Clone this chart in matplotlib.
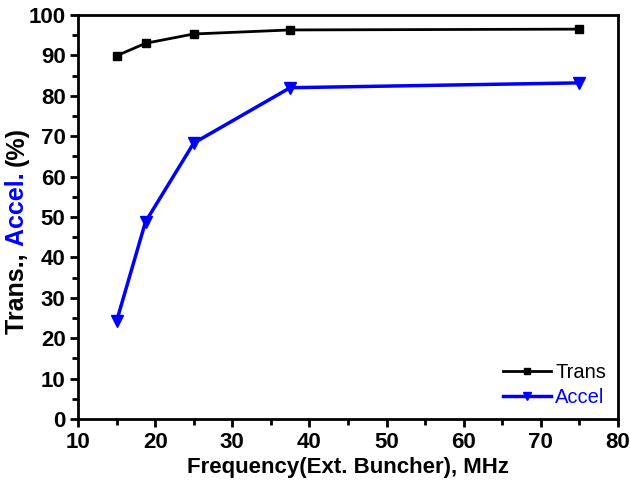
import matplotlib.pyplot as plt
from matplotlib.ticker import MultipleLocator

plt.rcParams['font.family'] = ['Liberation Sans', 'DejaVu Sans']

freq = [15, 18.75, 25, 37.5, 75]
trans = [89.9, 93.0, 95.3, 96.3, 96.5]
accel = [24.2, 48.8, 68.3, 82.0, 83.2]

fig = plt.figure(figsize=(6.3, 4.86), dpi=100)
ax = fig.add_axes([78 / 630, 1 - 419 / 486, 540 / 630, 404 / 486])

ax.plot(freq, trans, color='black', lw=2, marker='s', ms=6, label='Trans')
ax.plot(freq, accel, color='blue', lw=2.5, marker='v', ms=8, label='Accel')

ax.set_xlim(10, 80)
ax.set_ylim(0, 100)
ax.xaxis.set_major_locator(MultipleLocator(10))
ax.xaxis.set_minor_locator(MultipleLocator(5))
ax.yaxis.set_major_locator(MultipleLocator(10))
ax.yaxis.set_minor_locator(MultipleLocator(5))
ax.tick_params(which='major', direction='out', length=6, width=2, labelsize=16, pad=3)
ax.tick_params(which='minor', direction='out', length=4, width=2)
for lab in ax.get_xticklabels() + ax.get_yticklabels():
    lab.set_fontweight('bold')
for sp in ax.spines.values():
    sp.set_linewidth(2)

ax.set_xlabel('Frequency(Ext. Buncher), MHz', fontsize=16, fontweight='bold', labelpad=3)

# multi-coloured y label
t1 = fig.text(17 / 630, 1 - 334 / 486, 'Trans., ', rotation=90, fontsize=18,
              fontweight='bold', ha='center', va='bottom')
t2 = ax.annotate('Accel. ', xy=(0.5, 1), xycoords=t1, rotation=90, fontsize=18,
                 fontweight='bold', color='blue', ha='center', va='bottom')
ax.annotate('(%)', xy=(0.5, 1), xycoords=t2, rotation=90, fontsize=18,
            fontweight='bold', color='black', ha='center', va='bottom')

leg = ax.legend(loc='lower right', frameon=False, fontsize=14.5, handlelength=2.4,
                handletextpad=0.2, labelspacing=0.3, markerscale=0.75,
                borderaxespad=0.2, bbox_to_anchor=(1.0, 0.0))
for txt, line in zip(leg.get_texts(), leg.get_lines()):
    txt.set_color(line.get_color())

fig.savefig('out.png', dpi=100)
